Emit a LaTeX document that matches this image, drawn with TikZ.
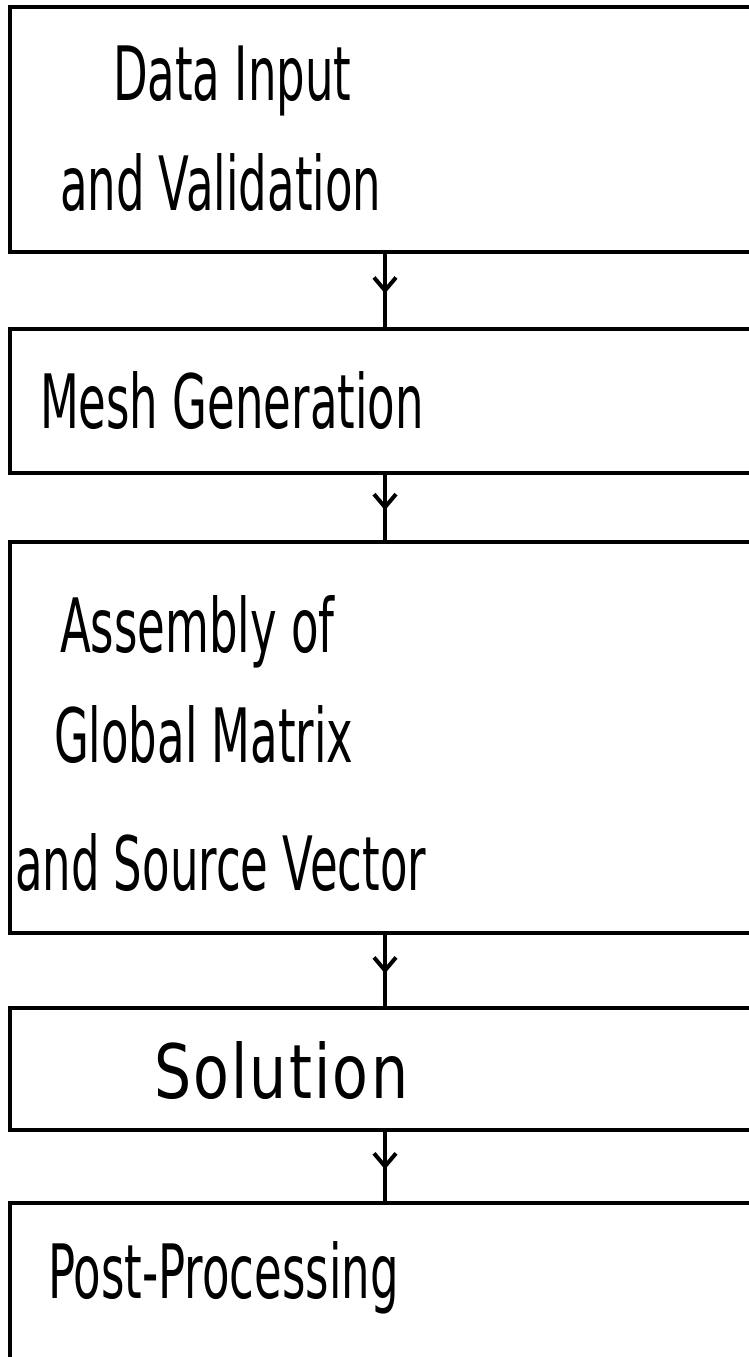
\documentclass[tikz,border=0pt]{standalone}
\usepackage{fontspec}
\setmainfont[FakeStretch=0.6]{DejaVu Sans}
\newfontfamily\solfont[FakeStretch=0.78,LetterSpace=3]{DejaVu Sans}
\usetikzlibrary{arrows.meta,decorations.markings}
\tikzset{
  boxnode/.style={draw, line width=4.2pt, rectangle, inner sep=0pt, outer sep=0pt, anchor=north west},
  label/.style={anchor=base west, inner sep=0pt, outer sep=0pt, font=\fontsize{75}{80}\selectfont},
  flow/.style={line width=4pt, decoration={markings, mark=at position 0.54 with {\arrow{Straight Barb[length=13pt,width=22pt,line width=4pt]}}}, postaction={decorate}}
}
\begin{document}
\begin{tikzpicture}[x=1pt,y=-1pt]
\useasboundingbox (0,0) rectangle (749,1357);
\clip (0,0) rectangle (749,1357);
\fill[white] (0,0) rectangle (749,1357);
% boxes (right side runs off the page)
\node[boxnode, minimum width=790pt, minimum height=245pt] (b1) at (10,7) {};
\node[boxnode, minimum width=790pt, minimum height=144pt] (b2) at (10,329) {};
\node[boxnode, minimum width=790pt, minimum height=391pt] (b3) at (10,542) {};
\node[boxnode, minimum width=790pt, minimum height=122pt] (b4) at (10,1008) {};
\node[boxnode, minimum width=790pt, minimum height=230pt] (b5) at (10,1203) {};
% texts
\node[label] (t1a) at (113,100) {Data Input};
\node[label] (t1b) at (60,210) {and Validation};
\node[label] (t2) at (40,428) {Mesh Generation};
\node[label] (t3a) at (60,652) {Assembly of};
\node[label] (t3b) at (54,762) {Global Matrix};
\node[label] (t3c) at (15,890) {and Source Vector};
\node[label] (t4) at (154,1098) {\solfont Solution};
\node[label] (t5) at (48,1298) {Post-Processing};
% connectors
\coordinate (ax) at (385,0);
\draw[flow] (ax |- b1.south) -- (ax |- b2.north);
\draw[flow] (ax |- b2.south) -- (ax |- b3.north);
\draw[flow] (ax |- b3.south) -- (ax |- b4.north);
\draw[flow] (ax |- b4.south) -- (ax |- b5.north);
\end{tikzpicture}
\end{document}
